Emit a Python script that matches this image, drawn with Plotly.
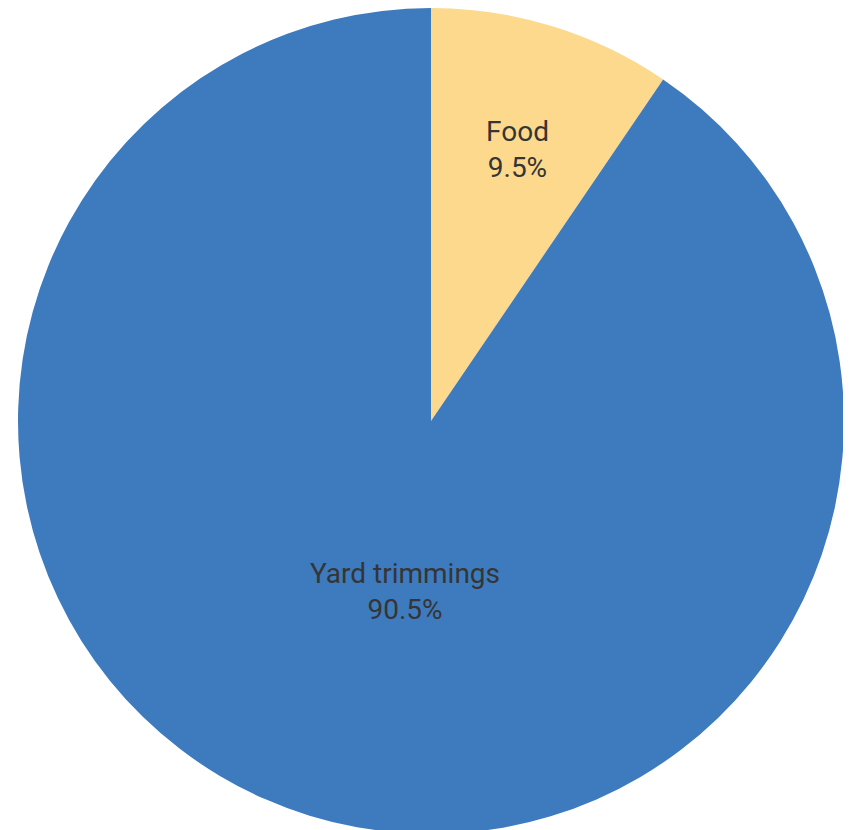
import plotly.graph_objects as go

labels = ["Food", "Yard trimmings"]
values = [9.5, 90.5]
colors = ["#FCD98D", "#3E7BBE"]

W, H = 851, 830
OFF = 8  # page body margin offset
cx, cy, r = 431 - OFF, 421 - OFF, 413  # figure pixel layout (top-left origin)

fig = go.Figure(go.Pie(
    labels=labels,
    values=values,
    sort=False,
    direction="clockwise",
    rotation=0,
    marker=dict(colors=colors, line=dict(width=0)),
    textinfo="none",
    hoverinfo="label+percent",
    showlegend=False,
    domain=dict(x=[(cx - r) / W, (cx + r) / W],
                y=[max(0, (H - cy - r) / H), min(1, (H - cy + r) / H)]),
))

label_pos = [(517 - OFF, 149 - OFF), (405 - OFF, 591 - OFF)]
for lab, val, (px, py) in zip(labels, values, label_pos):
    fig.add_annotation(
        x=px / W, y=1 - py / H, xref="paper", yref="paper",
        xanchor="center", yanchor="middle",
        text=f"{lab}<br>{val}%", showarrow=False,
        font=dict(family="Roboto", size=28, color="#353535"),
        align="center",
    )

fig.update_layout(
    width=W, height=H,
    margin=dict(l=0, r=0, t=0, b=0),
    paper_bgcolor="white", plot_bgcolor="white",
)
fig.write_html("out.html")
